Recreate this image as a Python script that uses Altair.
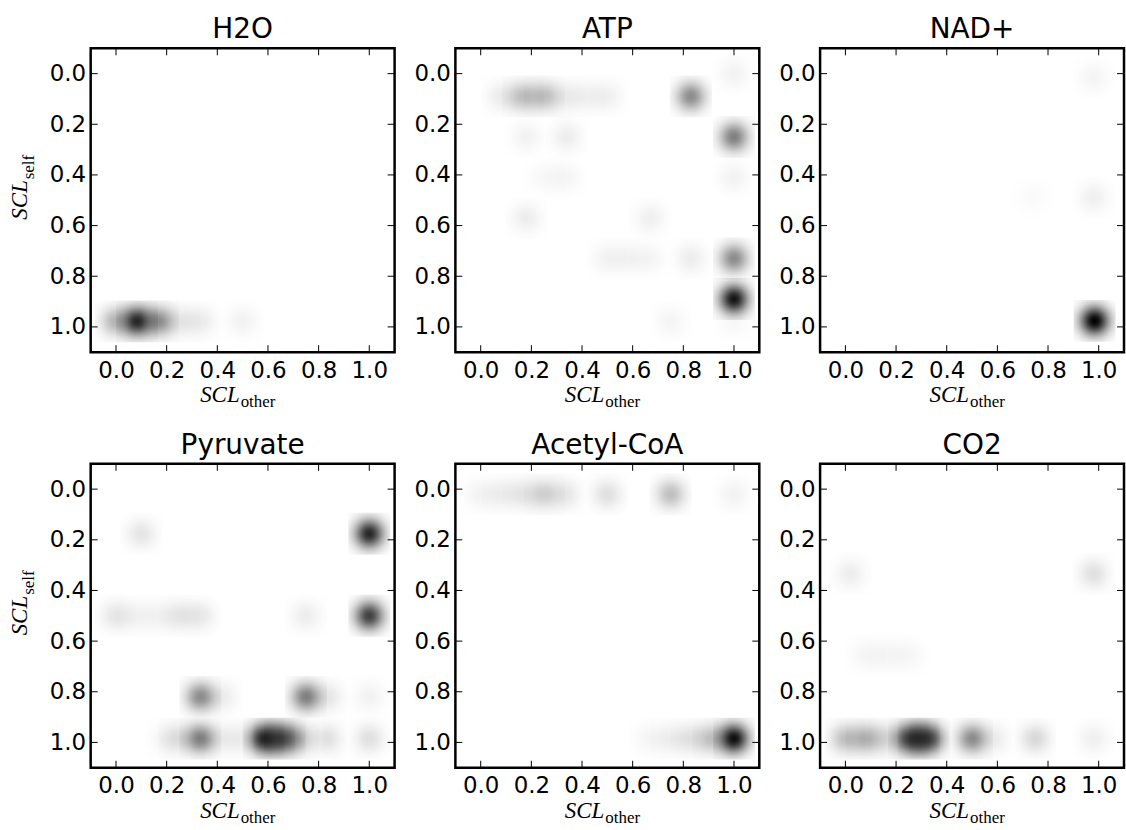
import math
import altair as alt
import pandas as pd

PANELS = ["H2O", "ATP", "NAD+", "Pyruvate", "Acetyl-CoA", "CO2"]
TICKS = [0.0, 0.2, 0.4, 0.6, 0.8, 1.0]

# (x = SCL_other, y = SCL_self, w = darkness)
H2O_X = [0.0, 0.083, 0.167, 0.25, 0.333, 0.5]
H2O_Y = [0.978, 0.978, 0.978, 0.978, 0.978, 0.978]
H2O_W = [0.3, 0.85, 0.45, 0.1, 0.08, 0.05]

ATP_X = [0.083, 0.167, 0.25, 0.333, 0.417, 0.5, 0.83, 1.0, 1.0, 0.18, 0.34, 0.25, 0.333,
         1.0, 0.18, 0.67, 0.5, 0.583, 0.667, 0.83, 1.0, 1.0, 0.75, 1.0]
ATP_Y = [0.09, 0.09, 0.09, 0.09, 0.09, 0.09, 0.09, 0.0, 0.25, 0.25, 0.25, 0.41, 0.41,
         0.41, 0.57, 0.57, 0.73, 0.73, 0.73, 0.73, 0.73, 0.89, 0.98, 0.98]
ATP_W = [0.08, 0.25, 0.25, 0.08, 0.06, 0.06, 0.45, 0.05, 0.5, 0.05, 0.07, 0.03, 0.04,
         0.05, 0.07, 0.06, 0.05, 0.05, 0.04, 0.07, 0.45, 0.92, 0.04, 0.03]

NAD_X = [0.98, 0.98, 0.74, 0.984]
NAD_Y = [0.015, 0.49, 0.49, 0.976]
NAD_W = [0.04, 0.06, 0.02, 1.0]

PYR_X = [0.1, 1.0, 0.0, 0.083, 0.167, 0.25, 0.333, 0.75, 1.0,
         0.333, 0.417, 0.75, 0.833, 1.0,
         0.2, 0.25, 0.333, 0.417, 0.5, 0.583, 0.625, 0.667, 0.72, 0.833, 1.0]
PYR_Y = [0.176, 0.176, 0.5, 0.5, 0.5, 0.5, 0.5, 0.5, 0.5,
         0.82, 0.82, 0.82, 0.82, 0.82,
         0.985, 0.985, 0.985, 0.985, 0.985, 0.985, 0.985, 0.985, 0.985, 0.985, 0.985]
PYR_W = [0.1, 0.85, 0.1, 0.05, 0.05, 0.1, 0.09, 0.07, 0.75,
         0.45, 0.08, 0.5, 0.1, 0.05,
         0.05, 0.12, 0.5, 0.08, 0.07, 0.8, 0.5, 0.55, 0.25, 0.12, 0.12]

ACO_X = [0.0, 0.083, 0.167, 0.25, 0.333, 0.5, 0.75, 1.0,
         0.667, 0.75, 0.833, 0.917, 1.0]
ACO_Y = [0.02, 0.02, 0.02, 0.02, 0.02, 0.02, 0.02, 0.02,
         0.985, 0.985, 0.985, 0.985, 0.985]
ACO_W = [0.05, 0.07, 0.1, 0.18, 0.1, 0.12, 0.25, 0.05,
         0.04, 0.07, 0.12, 0.25, 0.95]

CO2_X = [0.02, 0.98, 0.083, 0.167, 0.25,
         0.0, 0.083, 0.167, 0.25, 0.29, 0.333, 0.5, 0.583, 0.75, 0.98]
CO2_Y = [0.334, 0.334, 0.655, 0.655, 0.655,
         0.985, 0.985, 0.985, 0.985, 0.985, 0.985, 0.985, 0.985, 0.985, 0.985]
CO2_W = [0.07, 0.12, 0.04, 0.04, 0.035,
         0.25, 0.3, 0.15, 0.65, 0.6, 0.65, 0.45, 0.08, 0.15, 0.06]

SERIES = [(H2O_X, H2O_Y, H2O_W), (ATP_X, ATP_Y, ATP_W), (NAD_X, NAD_Y, NAD_W),
          (PYR_X, PYR_Y, PYR_W), (ACO_X, ACO_Y, ACO_W), (CO2_X, CO2_Y, CO2_W)]

W = 305
H = 305
BLOB = 42  # px side of each blurred square

# radial gaussian fill (style)
SIG = 0.24
R2 = 0.71
stops = []
for i in range(17):
    o = i / 16
    r = o * R2
    a = math.exp(-r * r / (2 * SIG * SIG))
    stops.append(alt.GradientStop(color=f"rgba(0,0,0,{a:.4f})", offset=o))
grad = alt.RadialGradient(gradient="radial", stops=stops, x1=0.5, y1=0.5, r1=0,
                          x2=0.5, y2=0.5, r2=R2)

xsc = alt.Scale(domain=[-0.1, 1.1], nice=False, zero=False)
ysc = alt.Scale(domain=[-0.1, 1.1], nice=False, zero=False, reverse=True)

FONT = "DejaVu Sans"
SERIF = "Liberation Serif"
LBL = 23

XAX = alt.Axis(values=TICKS, format=".1f", ticks=False, domain=False, grid=False,
               labelFont=FONT, labelFontSize=LBL, labelColor="black",
               labelPadding=7, labelFlush=False, title=None)
YAX = alt.Axis(values=TICKS, format=".1f", ticks=False, domain=False, grid=False,
               labelFont=FONT, labelFontSize=LBL, labelColor="black",
               labelPadding=5, labelFlush=False, title=None)


def panel(idx):
    name = PANELS[idx]
    xs, ys, ws = SERIES[idx]
    df = pd.DataFrame({"x": xs, "y": ys, "w": ws})
    blobs = alt.Chart(df).mark_square(size=BLOB * BLOB, fill=grad, strokeWidth=0,
                                      clip=True).encode(
        x=alt.X("x:Q", scale=xsc, axis=XAX, title=None),
        y=alt.Y("y:Q", scale=ysc, axis=YAX, title=None),
        opacity=alt.Opacity("w:Q", scale=None, legend=None),
    )
    tdf = pd.DataFrame({"t": TICKS})
    tk = dict(color="black", strokeWidth=1)
    bottom = alt.Chart(tdf).mark_rule(**tk).encode(
        x=alt.X("t:Q", scale=xsc, axis=XAX, title=None), y=alt.value(H), y2=alt.value(H - 7))
    top = alt.Chart(tdf).mark_rule(**tk).encode(
        x=alt.X("t:Q", scale=xsc, axis=XAX, title=None), y=alt.value(0), y2=alt.value(7))
    left = alt.Chart(tdf).mark_rule(**tk).encode(
        y=alt.Y("t:Q", scale=ysc, axis=YAX, title=None), x=alt.value(0), x2=alt.value(7))
    right = alt.Chart(tdf).mark_rule(**tk).encode(
        y=alt.Y("t:Q", scale=ysc, axis=YAX, title=None), x=alt.value(W), x2=alt.value(W - 7))

    one = pd.DataFrame({"t": [name]})
    title = alt.Chart(one).mark_text(font=FONT, fontSize=28, align="center",
                                     baseline="alphabetic", color="black").encode(
        text="t:N", x=alt.value(W / 2), y=alt.value(-10))
    xt1 = alt.Chart(pd.DataFrame({"t": ["SCL"]})).mark_text(
        font=SERIF, fontStyle="italic", fontSize=23, align="right",
        baseline="alphabetic", color="black").encode(
        text="t:N", x=alt.value(W / 2 - 3), y=alt.value(H + 50))
    xt2 = alt.Chart(pd.DataFrame({"t": ["other"]})).mark_text(
        font=SERIF, fontSize=17, align="left",
        baseline="alphabetic", color="black").encode(
        text="t:N", x=alt.value(W / 2 - 2), y=alt.value(H + 55))
    layers = [blobs, bottom, top, left, right, title, xt1, xt2]
    if idx % 3 == 0:
        yt1 = alt.Chart(pd.DataFrame({"t": ["SCL"]})).mark_text(
            font=SERIF, fontStyle="italic", fontSize=23, align="right",
            baseline="alphabetic", angle=270, color="black").encode(
            text="t:N", x=alt.value(-64), y=alt.value(H / 2 - 20))
        yt2 = alt.Chart(pd.DataFrame({"t": ["self"]})).mark_text(
            font=SERIF, fontSize=17, align="left",
            baseline="alphabetic", angle=270, color="black").encode(
            text="t:N", x=alt.value(-57), y=alt.value(H / 2 - 21))
        layers += [yt1, yt2]
    return alt.layer(*layers).properties(width=W, height=H)


chart = alt.concat(*[panel(i) for i in range(6)], columns=3,
                   spacing={"row": 112, "column": 61}, bounds="flush").properties(
    padding={"left": 7, "top": 13, "right": 0, "bottom": 0}
).configure(background="white").configure_view(stroke="black", strokeWidth=2.5)

chart.save("out.html", embed_options={"renderer": "svg", "actions": False})
